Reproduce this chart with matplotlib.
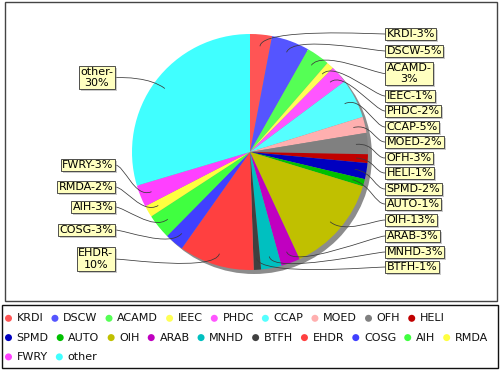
import matplotlib
matplotlib.use("Agg")
import matplotlib.pyplot as plt
import numpy as np
from matplotlib.patches import Circle, Rectangle, PathPatch
from matplotlib.path import Path

# ---------------- data ----------------
names = ["KRDI", "DSCW", "ACAMD", "IEEC", "PHDC", "CCAP", "MOED", "OFH", "HELI",
         "SPMD", "AUTO", "OIH", "ARAB", "MNHD", "BTFH", "EHDR", "COSG", "AIH",
         "RMDA", "FWRY", "other"]
shares = [3.0, 5.2, 3.2, 1.0, 2.4, 5.4, 2.2, 2.9, 1.2,
          2.2, 1.0, 13.4, 2.6, 2.8, 1.0, 10.3, 2.6, 3.4,
          1.6, 3.0, 29.6]
colors = ["#FF5555", "#5555FF", "#55FF55", "#FFFF55", "#FF55FF", "#55FFFF",
          "#FFAFAF", "#808080", "#C00000", "#0000C0", "#00C000", "#C0C000",
          "#C000C0", "#00C0C0", "#404040", "#FF4040", "#4040FF", "#40FF40",
          "#FFFF40", "#FF40FF", "#40FFFF"]

# label layout (positions only)
label_y = [34, 51, 73.5, 96, 111, 127, 142, 158, 173, 189, 204, 220, 236, 252, 267,
           259, 230, 207, 187, 165, 77.5]

W, H = 500, 370
fig = plt.figure(figsize=(W / 100, H / 100), dpi=100)
ax = fig.add_axes([0, 0, 1, 1])

cx, cy, R = 250.0, 152.0, 118.0

# pie shadow
ax.add_patch(Circle((cx + 4, cy + 4), R, facecolor="#8c8c8c", edgecolor="none", zorder=1))

wedges, _ = ax.pie(shares, colors=colors, startangle=-90, counterclock=True,
                   center=(cx, cy), radius=R,
                   wedgeprops=dict(linewidth=0))
for w in wedges:
    w.set_zorder(2)

ax.set_xlim(0, W)
ax.set_ylim(H, 0)
ax.set_aspect("auto")
ax.axis("off")

# frames
ax.add_patch(Rectangle((5, 2), 492, 299, fill=False, edgecolor="#444444", lw=1.0, zorder=0))
ax.add_patch(Rectangle((2, 305), 496, 63, fill=False, edgecolor="#111111", lw=1.0, zorder=0))

renderer = fig.canvas.get_renderer()
inv = ax.transData.inverted()

total = float(sum(shares))
cum = np.cumsum([0] + shares)
link_r = 0.9 * R
elbow_r = 1.06 * R
anchor_off = 1.06 * R

for i, (nm, v) in enumerate(zip(names, shares)):
    mid = (cum[i] + v / 2.0) / total * 2 * np.pi  # clockwise from top
    sx, sy = np.sin(mid), -np.cos(mid)
    p0 = (cx + link_r * sx, cy + link_r * sy)
    p1 = (cx + elbow_r * sx, cy + elbow_r * sy)
    ly = label_y[i]
    right = sx >= 0
    if right:
        ax_x = cx + anchor_off
        tx = ax_x + 10
    else:
        ax_x = cx - anchor_off
        tx = ax_x - 10
    path = Path([p0, p1, (ax_x, ly), (tx, ly)],
                [Path.MOVETO, Path.CURVE4, Path.CURVE4, Path.CURVE4])
    ax.add_patch(PathPatch(path, fill=False, edgecolor="#3a3a3a", lw=0.55, zorder=3))

    txt = f"{nm}-{round(v)}%"
    if len(txt) >= 8:
        txt = f"{nm}-\n{round(v)}%"
    ha = "left" if right else "right"
    txp = tx + 1.5 if right else tx - 1.5
    t = ax.text(txp, ly, txt, ha=ha, va="center", fontsize=8, color="black",
                multialignment="center", linespacing=1.15, zorder=5,
                bbox=dict(boxstyle="square,pad=0.12", facecolor="#FFFFC0",
                          edgecolor="#333333", lw=0.6))
    # label shadow as a plain rectangle behind the box
    t.update_bbox_position_size(renderer)
    bb = t.get_bbox_patch().get_window_extent(renderer)
    (x0, y0), (x1, y1) = inv.transform([(bb.x0, bb.y0), (bb.x1, bb.y1)])
    ax.add_patch(Rectangle((min(x0, x1) + 2, min(y0, y1) + 2), abs(x1 - x0), abs(y1 - y0),
                           facecolor=(0.59, 0.59, 0.59, 0.5), edgecolor="none", zorder=4))

# flow legend
x = 5.0
row_y = 318.3
for nm, col in zip(names, colors):
    t = ax.text(0, 0, nm, fontsize=8)
    tw = t.get_window_extent(renderer).width
    t.remove()
    item_w = 7 + 4.7 + tw
    if x + item_w > 494:
        x = 5.0
        row_y += 19.3
    ax.add_patch(Circle((x + 3.5, row_y), 3.5, facecolor=col, edgecolor="none", zorder=3))
    ax.text(x + 11.7, row_y, nm, fontsize=8, va="center", ha="left", color="#111111")
    x += item_w + 8

fig.savefig("out.png", dpi=100)
